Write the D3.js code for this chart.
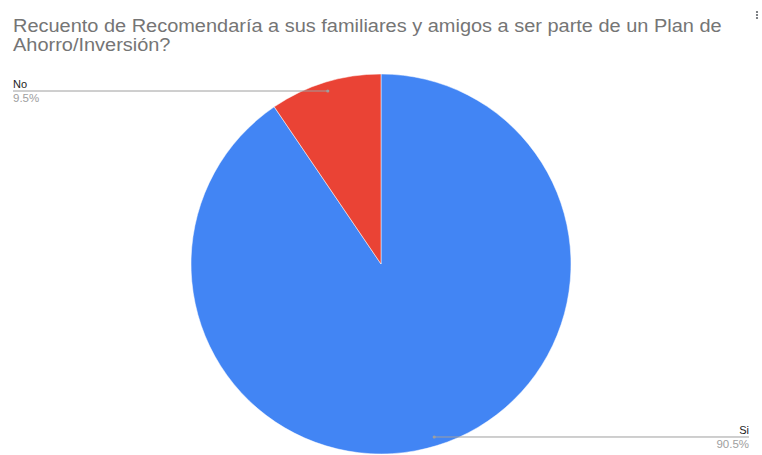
<!DOCTYPE html>
<html>
<head>
<meta charset="utf-8">
<script src="https://cdn.jsdelivr.net/npm/d3@7/dist/d3.min.js"></script>
<style>
  html, body { margin: 0; padding: 0; background: #fff; }
  svg { display: block; }
</style>
</head>
<body>
<svg id="chart" width="762" height="455"></svg>
<script>
// Survey answers and their shares (%)
const categories = ["Si", "No"];
const values = [90.5, 9.5];
const colors = ["#4285f4", "#ea4335"];
const titleLines = [
  "Recuento de Recomendaría a sus familiares y amigos a ser parte de un Plan de",
  "Ahorro/Inversión?"
];

const W = 762, H = 455;
const cx = 381, cy = 264, R = 190;
const font = "Arial, 'Liberation Sans', sans-serif";

const svg = d3.select("#chart");

// Title, widened slightly so the first line spans 13..722
const titleG = svg.append("g");
const title = titleG.append("text")
  .attr("font-family", font)
  .attr("font-size", 18.5)
  .attr("fill", "#757575");
titleLines.forEach((t, i) => {
  title.append("tspan").attr("x", 0).attr("y", 32 + i * 19).text(t);
});
const tw = title.select("tspan").node().getComputedTextLength();
titleG.attr("transform", `translate(13,0) scale(${709 / tw},1)`);

// Kebab menu dots
svg.append("g").selectAll("circle").data([0, 1, 2]).join("circle")
  .attr("cx", 757).attr("cy", d => 12 + d * 3).attr("r", 1.1).attr("fill", "#5f6368");

const data = categories.map((c, i) => ({ name: c, value: values[i], color: colors[i] }));

const pie = d3.pie().sort(null).value(d => d.value);
const arcs = pie(data);
const arc = d3.arc().innerRadius(0).outerRadius(R);

const g = svg.append("g").attr("transform", `translate(${cx},${cy})`);
g.selectAll("path").data(arcs).join("path")
  .attr("d", arc)
  .attr("fill", d => d.data.color)
  .attr("stroke", "#fff")
  .attr("stroke-width", 0.5);

// Leader lines and labels
const inner = d3.arc().innerRadius(R - 9).outerRadius(R - 9);
const fmt = d => d3.format(".1f")(d) + "%";

arcs.forEach(a => {
  const [px, py] = inner.centroid(a);
  const x0 = cx + px, y0 = cy + py;
  const left = x0 < cx;
  const x1 = left ? 13 : 749;
  const anchor = left ? "start" : "end";
  svg.append("line")
    .attr("x1", x0).attr("y1", y0).attr("x2", x1).attr("y2", y0)
    .attr("stroke", "#9e9e9e").attr("stroke-width", 1);
  svg.append("circle").attr("cx", x0).attr("cy", y0).attr("r", 1.6).attr("fill", "#9e9e9e");
  svg.append("text")
    .attr("x", x1).attr("y", y0 - 3)
    .attr("text-anchor", anchor)
    .attr("font-family", font).attr("font-size", 11)
    .attr("fill", "#222").text(a.data.name);
  svg.append("text")
    .attr("x", x1).attr("y", y0 + 11)
    .attr("text-anchor", anchor)
    .attr("font-family", font).attr("font-size", 11.5)
    .attr("fill", "#9e9e9e").text(fmt(a.data.value));
});
</script>
</body>
</html>
